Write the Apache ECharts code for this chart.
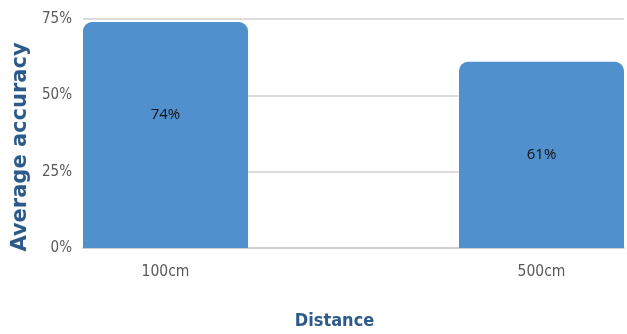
<!DOCTYPE html>
<html>
<head>
<meta charset="utf-8">
<script src="https://cdn.jsdelivr.net/npm/echarts@6/dist/echarts.min.js"></script>
<style>html,body{margin:0;padding:0;background:#fff}#c{width:627px;height:334px}</style>
</head>
<body>
<div id="c"></div>
<script>
const categories = ['100cm', '500cm'];
const accuracy = [74, 61];
const yTicks = [0, 25, 50, 75];
const xTitle = 'Distance';
const yTitle = 'Average accuracy';

const chart = echarts.init(document.getElementById('c'), null, {renderer: 'canvas'});
chart.setOption({
  animation: false,
  backgroundColor: '#ffffff',
  grid: {left: 83, right: 3, top: 19, bottom: 86, outerBoundsMode: 'none', containLabel: false},
  xAxis: {
    type: 'value',
    min: -0.2194,
    max: 1.2194,
    name: xTitle,
    nameLocation: 'middle',
    nameGap: 64,
    nameTextStyle: {fontFamily: 'DejaVu Sans Condensed', fontWeight: 'bold', fontSize: 18, color: '#2C5A8A', padding: [0, 38, 0, 0]},
    axisLine: {show: true, lineStyle: {color: '#d0d0d0', width: 2}},
    axisTick: {show: false},
    splitLine: {show: false},
    axisLabel: {
      customValues: categories.map((c, i) => i),
      formatter: v => categories[Math.round(v)],
      fontFamily: 'DejaVu Sans Condensed', fontSize: 15.5, color: '#595959', margin: 16
    }
  },
  yAxis: {
    type: 'value',
    min: yTicks[0], max: yTicks[yTicks.length - 1], interval: 25,
    name: yTitle,
    nameLocation: 'middle',
    nameGap: 50,
    nameTextStyle: {fontFamily: 'DejaVu Sans', fontWeight: 'bold', fontSize: 21, color: '#2C5A8A', padding: [0, 27, 0, 0]},
    axisLine: {show: false},
    axisTick: {show: false},
    splitLine: {lineStyle: {color: '#dcdcdc', width: 2}},
    axisLabel: {formatter: v => v + '%', fontFamily: 'DejaVu Sans Condensed', fontSize: 15, color: '#595959', margin: 11}
  },
  series: [{
    type: 'bar',
    data: accuracy.map((v, i) => [i, v]),
    barWidth: 165,
    itemStyle: {color: '#5090CD', borderRadius: [9, 9, 0, 0]},
    label: {
      show: true,
      position: 'insideTop',
      distance: 85,
      formatter: p => p.value[1] + '%',
      fontFamily: 'Open Sans', fontSize: 15, color: '#111'
    }
  }]
});
</script>
</body>
</html>
